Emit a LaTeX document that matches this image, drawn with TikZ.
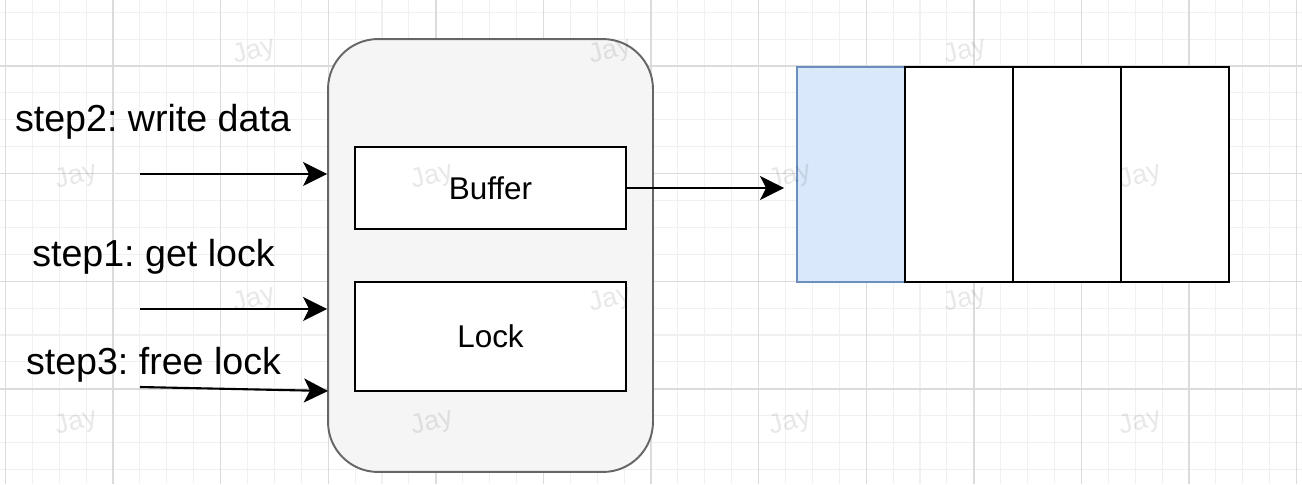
\documentclass[tikz,border=0pt]{standalone}
\usepackage{fontspec}
\setmainfont{Liberation Sans}
\usepackage{xcolor}
\usepackage{tikz}
\usetikzlibrary{positioning,fit,arrows.meta}
\frenchspacing

\definecolor{boxgray}{HTML}{F5F5F5}
\definecolor{boxline}{HTML}{666666}
\definecolor{cellblue}{HTML}{DAE8FC}
\definecolor{cellline}{HTML}{6C8EBF}

\begin{document}
\begin{tikzpicture}[x=0.02cm,y=-0.02cm,
  minorline/.style={draw=black!6,line width=0.6pt},
  majorline/.style={draw=black!14,line width=0.8pt},
  mutexbox/.style={draw=boxline,fill=boxgray,line width=1.1pt,rounded corners=1cm,
    minimum width=6.5cm,minimum height=8.66cm,inner sep=0pt},
  innerbox/.style={draw,fill=white,line width=1.1pt,minimum width=5.42cm,inner sep=0pt,
    font=\fontsize{17.9}{20}\selectfont},
  cell/.style={draw,fill=white,line width=1.1pt,minimum width=2.16cm,minimum height=4.3cm,inner sep=0pt},
  steplabel/.style={inner sep=0pt,font=\fontsize{21.4}{24}\selectfont},
  wmark/.style={inner sep=0pt,text=black,text opacity=0.09,rotate=15,font=\fontsize{15.5}{17}\selectfont},
  arr/.style={-{Stealth[length=0.48cm,width=0.48cm,inset=0.12cm]},line width=1.2pt}]
\useasboundingbox (0,0) rectangle (1302,484);
      \fill[white] (0,0) rectangle (1302,484);
% grid
      \foreach \k in {0,...,48} \draw[minorline] ({5.4+26.9*\k},0) -- ({5.4+26.9*\k},484);
      \foreach \k in {0,...,17} \draw[minorline] (0,{12.2+26.9*\k}) -- (1302,{12.2+26.9*\k});
      \foreach \k in {0,...,12} \draw[majorline] ({5.4+107.6*\k},0) -- ({5.4+107.6*\k},484);
      \foreach \k in {0,...,3} \draw[majorline] (0,{66+107.6*\k}) -- (1302,{66+107.6*\k});

% container with buffer and lock
      \node[mutexbox] (mutex) at (490.5,255.5) {};
      \node[innerbox,minimum height=1.64cm] (buffer) at (490.5,188) {Buffer};
      \node[innerbox,minimum height=2.18cm] (lock) at (490.5,336.5) {Lock};

% queue cells
      \node[cell,fill=cellblue,draw=cellline] (c1) at (851,174.5) {};
      \node[cell] (c2) at (959,174.5) {};
      \node[cell] (c3) at (1067,174.5) {};
      \node[cell] (c4) at (1175,174.5) {};

% steps
      \node[steplabel] (lblwrite) at (153,122) {step2: write data};
      \node[steplabel] (lblget) at (153.5,257) {step1: get lock};
      \node[steplabel] (lblfree) at (153.5,365) {step3: free lock};
      \coordinate (s2) at (140,174);
      \coordinate (s1) at (140,309);
      \coordinate (s3) at (140,387);
      \coordinate (e3) at (328,391);
          \draw[arr] (s2) -- (s2 -| mutex.west);
          \draw[arr] (s1) -- (s1 -| mutex.west);
          \draw[arr] (s3) -- (e3);
          \draw[arr,shorten >=0.24cm] (buffer.east) -- (buffer.east -| c1.west);

% watermarks
      \foreach \x/\y in {254/52,610/52,965/52,76/177,432/177,790/177,1140/177,
        254/300,610/300,965/300,76/423,432/423,790/423,1140/423}
        \node[wmark,name=wm-\x-\y] at (\x,\y) {Jay};
\end{tikzpicture}
\end{document}
